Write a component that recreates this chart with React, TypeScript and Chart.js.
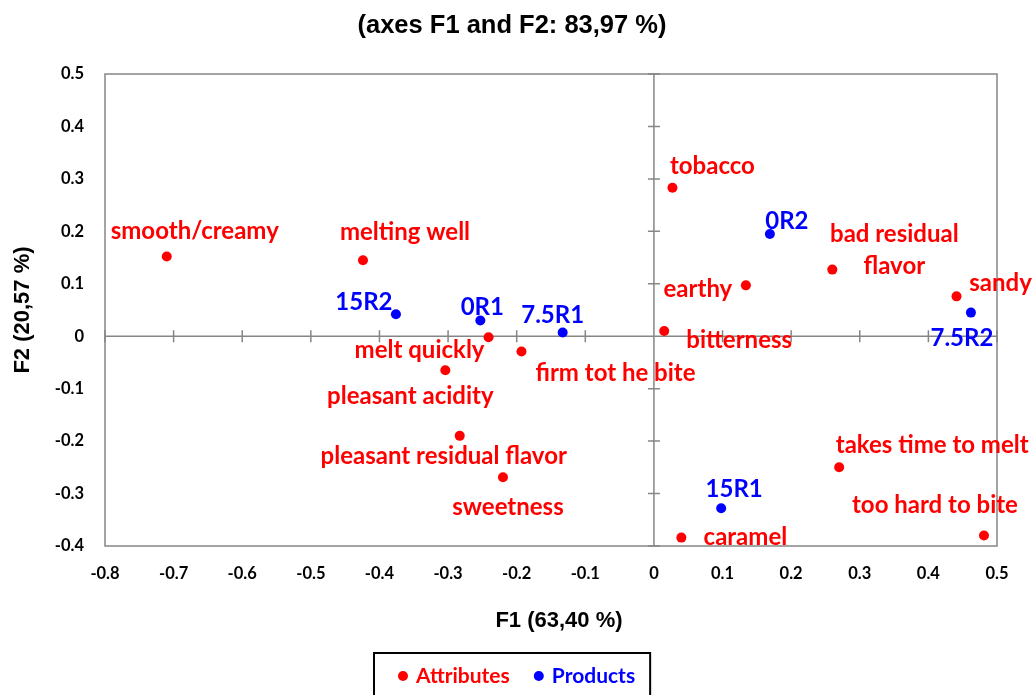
import React, { useEffect, useRef } from "react";
import { Chart, registerables } from "chart.js";

Chart.register(...registerables);

// ---------- data ----------
const attributeNames = [
  "smooth/creamy",
  "melting well",
  "melt quickly",
  "firm tot he bite",
  "pleasant acidity",
  "pleasant residual flavor",
  "sweetness",
  "tobacco",
  "bad residual\nflavor",
  "earthy",
  "sandy",
  "bitterness",
  "takes time to melt",
  "caramel",
  "too hard to bite",
];
const attributeF1 = [-0.71, -0.424, -0.241, -0.193, -0.304, -0.283, -0.22, 0.027, 0.26, 0.134, 0.441, 0.015, 0.27, 0.04, 0.481];
const attributeF2 = [0.152, 0.145, -0.002, -0.029, -0.065, -0.19, -0.269, 0.283, 0.127, 0.097, 0.076, 0.01, -0.25, -0.384, -0.38];

const productNames = ["15R2", "0R1", "7.5R1", "0R2", "7.5R2", "15R1"];
const productF1 = [-0.376, -0.253, -0.133, 0.169, 0.462, 0.098];
const productF2 = [0.042, 0.03, 0.007, 0.195, 0.045, -0.328];

const xTickValues = [-0.8, -0.7, -0.6, -0.5, -0.4, -0.3, -0.2, -0.1, 0, 0.1, 0.2, 0.3, 0.4, 0.5];
const yTickValues = [-0.4, -0.3, -0.2, -0.1, 0, 0.1, 0.2, 0.3, 0.4, 0.5];

const titleText = "(axes F1 and F2: 83,97 %)";
const xTitle = "F1 (63,40 %)";
const yTitle = "F2 (20,57 %)";
const seriesNames = ["Attributes", "Products"];

// ---------- style (label placement offsets in px, relative to the point) ----------
const attributeLabelOffsets = [
  [28, -25], [42, -28], [-69, 13], [94, 22], [-35, 26], [-16, 20], [5, 30],
  [40, -22], [62, -19], [-48, 4], [44, -13], [75, 9], [93, -22], [64, 0], [-49, -30],
];
const productLabelOffsets = [[-32, -12], [2, -13], [-10, -17], [17, -13], [-9, 26], [13, -19]];

const RED = "#FF0000";
const BLUE = "#0000FF";
const AXIS_GREY = "#868686";
const LABEL_FONT = "bold 24px Lato";
const LEGEND_FONT = "bold 21px Lato";
const TITLE_FONT = "bold 25.5px 'Liberation Sans', Arial, sans-serif";
const AXIS_TITLE_FONT = "bold 22px 'Liberation Sans', Arial, sans-serif";

const framePlugin = {
  id: "frameAxes",
  beforeDatasetsDraw(chart: any) {
    const { ctx, chartArea } = chart;
    const xs = chart.scales.x;
    const ys = chart.scales.y;
    ctx.save();
    ctx.strokeStyle = AXIS_GREY;
    ctx.lineWidth = 1.5;
    ctx.strokeRect(chartArea.left, chartArea.top, chartArea.right - chartArea.left, chartArea.bottom - chartArea.top);
    const y0 = ys.getPixelForValue(0);
    const x0 = xs.getPixelForValue(0);
    ctx.beginPath();
    ctx.moveTo(chartArea.left, y0);
    ctx.lineTo(chartArea.right, y0);
    ctx.moveTo(x0, chartArea.top);
    ctx.lineTo(x0, chartArea.bottom);
    xTickValues.forEach((v) => {
      const px = xs.getPixelForValue(v);
      ctx.moveTo(px, y0 - 6);
      ctx.lineTo(px, y0 + 6);
    });
    yTickValues.forEach((v) => {
      const py = ys.getPixelForValue(v);
      ctx.moveTo(x0 - 6, py);
      ctx.lineTo(x0 + 6, py);
    });
    ctx.stroke();
    ctx.restore();
  },
};

const labelPlugin = {
  id: "pointLabels",
  afterDatasetsDraw(chart: any) {
    const ctx = chart.ctx;
    ctx.save();
    ctx.textAlign = "center";
    ctx.textBaseline = "middle";
    ctx.font = LABEL_FONT;
    chart.data.datasets.forEach((ds: any, di: number) => {
      const meta = chart.getDatasetMeta(di);
      const offs = di === 0 ? attributeLabelOffsets : productLabelOffsets;
      ctx.fillStyle = ds.backgroundColor;
      meta.data.forEach((pt: any, i: number) => {
        const lines = String(ds.data[i].label).split("\n");
        const [dx, dy] = offs[i];
        lines.forEach((ln: string, li: number) => {
          ctx.fillText(ln, pt.x + dx, pt.y + dy + (li - (lines.length - 1) / 2) * 32);
        });
      });
    });
    ctx.restore();
  },
};

const textPlugin = {
  id: "titles",
  afterDraw(chart: any) {
    const ctx = chart.ctx;
    const xs = chart.scales.x;
    ctx.save();
    ctx.fillStyle = "#000";
    ctx.textAlign = "center";
    ctx.textBaseline = "middle";
    ctx.font = TITLE_FONT;
    ctx.fillText(titleText, 512, 26);
    ctx.font = AXIS_TITLE_FONT;
    ctx.fillText(xTitle, (xs.left + xs.right) / 2 + 8, 621);
    ctx.restore();
  },
};

const legendBoxPlugin = {
  id: "legendBox",
  afterDraw(chart: any) {
    const ctx = chart.ctx;
    ctx.save();
    const boxLeft = 374;
    const boxTop = 653;
    const cy = 676;
    ctx.font = LEGEND_FONT;
    ctx.textBaseline = "middle";
    ctx.textAlign = "left";
    let x = boxLeft + 24;
    chart.data.datasets.forEach((ds: any) => {
      ctx.fillStyle = ds.backgroundColor;
      ctx.beginPath();
      ctx.arc(x + 5, cy, 5, 0, Math.PI * 2);
      ctx.fill();
      ctx.fillText(ds.label, x + 18, cy);
      x += 18 + ctx.measureText(ds.label).width + 24;
    });
    const boxRight = x - 24 + 15;
    ctx.strokeStyle = "#000";
    ctx.lineWidth = 2;
    ctx.strokeRect(boxLeft, boxTop, boxRight - boxLeft, 60);
    ctx.restore();
  },
};

export default function App() {
  const ref = useRef<HTMLCanvasElement | null>(null);

  useEffect(() => {
    if (!ref.current) return;
    const chart = new Chart(ref.current, {
      type: "scatter",
      data: {
        datasets: [
          {
            label: seriesNames[0],
            data: attributeF1.map((x, i) => ({ x, y: attributeF2[i], label: attributeNames[i] })),
            backgroundColor: RED,
            borderColor: RED,
            pointRadius: 5,
            pointBorderWidth: 0,
          },
          {
            label: seriesNames[1],
            data: productF1.map((x, i) => ({ x, y: productF2[i], label: productNames[i] })),
            backgroundColor: BLUE,
            borderColor: BLUE,
            pointRadius: 5,
            pointBorderWidth: 0,
          },
        ],
      },
      options: {
        animation: false,
        responsive: true,
        maintainAspectRatio: false,
        layout: { padding: { top: 74, left: 0, right: 36, bottom: 59 } },
        plugins: {
          legend: { display: false },
          tooltip: { enabled: false },
          title: { display: false },
        },
        scales: {
          x: {
            type: "linear",
            min: -0.8,
            max: 0.5,
            afterBuildTicks: (s: any) => {
              s.ticks = xTickValues.map((v) => ({ value: v }));
            },
            afterFit: (s: any) => {
              s.height = 90;
            },
            grid: { display: false, drawTicks: false },
            border: { display: false },
            ticks: {
              padding: 18,
              color: "#000",
              font: { family: "Lato", size: 16.5, weight: "bold" },
              callback: (v: any) => String(Math.round(Number(v) * 10) / 10),
            },
            title: { display: false },
          },
          y: {
            type: "linear",
            min: -0.4,
            max: 0.5,
            afterBuildTicks: (s: any) => {
              s.ticks = yTickValues.map((v) => ({ value: v }));
            },
            afterFit: (s: any) => {
              s.width = 105;
            },
            grid: { display: false, drawTicks: false },
            border: { display: false },
            ticks: {
              padding: 21,
              color: "#000",
              font: { family: "Lato", size: 16.5, weight: "bold" },
              callback: (v: any) => String(Math.round(Number(v) * 10) / 10),
            },
            title: {
              display: true,
              text: yTitle,
              color: "#000",
              font: { family: "'Liberation Sans', Arial, sans-serif", size: 22, weight: "bold" },
              padding: { top: 10, bottom: 4 },
            },
          },
        },
      },
      plugins: [framePlugin, labelPlugin, textPlugin, legendBoxPlugin],
    } as any);
    return () => chart.destroy();
  }, []);

  return (
    <div style={{ position: "absolute", left: 0, top: 0, width: 1033, height: 695, background: "#fff" }}>
      <canvas ref={ref} />
    </div>
  );
}
